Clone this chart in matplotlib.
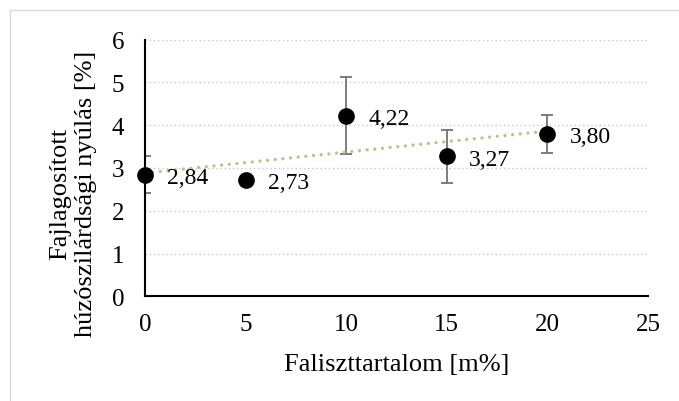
import numpy as np
import matplotlib
matplotlib.use("Agg")
import matplotlib.pyplot as plt
from matplotlib.patches import Rectangle

x_vals = [0, 5, 10, 15, 20]
y_vals = [2.84, 2.73, 4.22, 3.27, 3.80]
y_err = [0.43, 0.05, 0.90, 0.62, 0.45]
labels = ["2,84", "2,73", "4,22", "3,27", "3,80"]
x_ticks = [0, 5, 10, 15, 20, 25]
y_ticks = [0, 1, 2, 3, 4, 5, 6]
x_label = "Faliszttartalom [m%]"
y_label = "Fajlagosított\nhúzószilárdsági nyúlás [%]"

plt.rcParams['font.family'] = ['Liberation Serif', 'DejaVu Serif']

W, H = 679, 402
fig = plt.figure(figsize=(W / 100, H / 100), dpi=100)
fig.patch.set_facecolor('white')
fig.patches.append(Rectangle((10 / W, -0.1), 1.2, (H - 11) / H + 0.1,
                             transform=fig.transFigure, fill=False,
                             edgecolor='#d9d9d9', linewidth=1.0))

ax = fig.add_axes([145 / W, (H - 297.3) / H, (648 - 145) / W, (297.3 - 40.7) / H])
ax.set_xlim(0, 25)
ax.set_ylim(0, 6)
ax.set_xticks(x_ticks)
ax.set_yticks(y_ticks)
ax.tick_params(length=0, labelsize=18)
ax.tick_params(axis='x', pad=12)
ax.tick_params(axis='y', pad=15)
for s in ['top', 'right']:
    ax.spines[s].set_visible(False)
for s in ['left', 'bottom']:
    ax.spines[s].set_linewidth(1.5)
    ax.spines[s].set_color('black')
ax.grid(axis='y', color='#c8c8c8', linestyle=(0, (1, 2)), linewidth=1.0)
ax.set_axisbelow(True)

# trendline (linear fit of the data)
coef = np.polyfit(x_vals, y_vals, 1)
xt = np.array([x_vals[0], x_vals[-1]])
ax.plot(xt, np.polyval(coef, xt), color='#c9bb8e', linewidth=2.4,
        linestyle=(0, (0.01, 2.3)), dash_capstyle='round', zorder=3)

ax.errorbar(x_vals, y_vals, yerr=y_err, fmt='none', ecolor='#737373',
            elinewidth=1.3, capsize=4.5, capthick=1.3, zorder=2)
ax.plot(x_vals, y_vals, 'o', color='black', markersize=11, zorder=4, clip_on=False)

for xv, yv, lb in zip(x_vals, y_vals, labels):
    ax.annotate(lb, (xv, yv), xytext=(16, -2), textcoords='offset points',
                va='center', ha='left', fontsize=17)

fig.text(396.5 / W, 1 - 365 / H, x_label, ha='center', va='center', fontsize=19)
fig.text(73 / W, 1 - 194 / H, y_label, ha='center', va='center', fontsize=19,
         rotation=90, linespacing=1.2)

fig.savefig("out.png", dpi=100)
